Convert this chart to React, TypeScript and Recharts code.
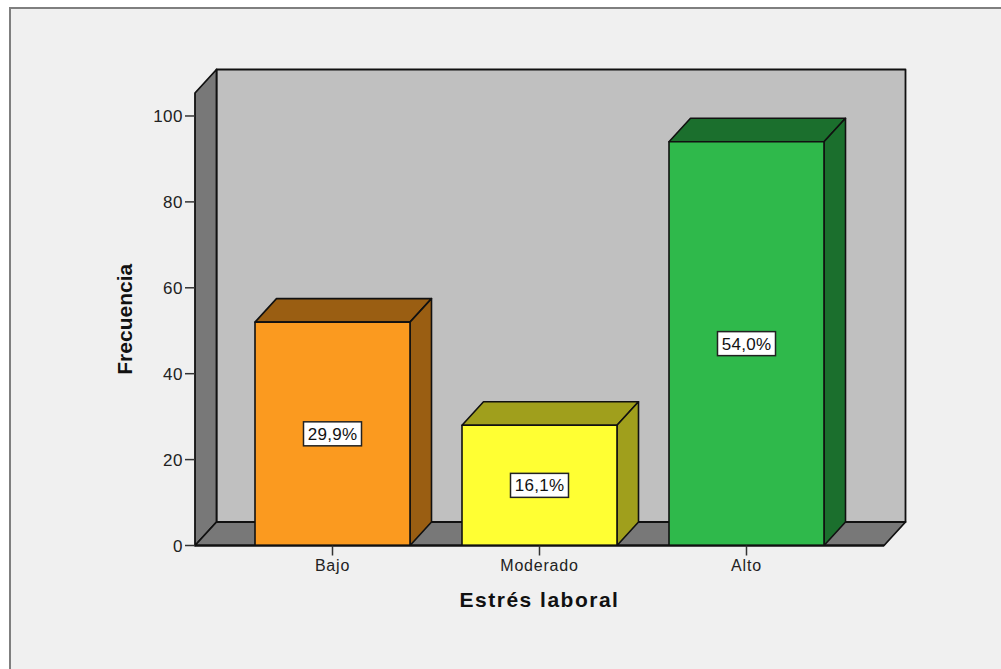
import { BarChart, Bar, XAxis, YAxis, ReferenceArea, LabelList, Cell } from 'recharts';

const categories = ['Bajo', 'Moderado', 'Alto'];
const frecuencia = [52, 28, 94];
const porcentajes = ['29,9%', '16,1%', '54,0%'];
const frontColors = ['#fb9a1f', '#ffff33', '#2fb94b'];
const darkColors = ['#9a5e12', '#a09f1c', '#1b6f2d'];
const yTicks = [0, 20, 40, 60, 80, 100];

const data = categories.map((name, i) => ({ name, value: frecuencia[i], pct: porcentajes[i] }));

// depth of the fake 3D box, SPSS style
const DX = 21.5;
const DY = 23.5;
const AXIS_PAD = 34;
const FONT = '"Liberation Sans", Arial, sans-serif';
const LINE = '#111';

function Walls(props: any) {
  // the reference area only covers the bands, so widen it back over the axis padding
  const x = props.x - AXIS_PAD;
  const width = props.width + AXIS_PAD * 2;
  const { y, height } = props;
  const bottom = y + height;
  const right = x + width;
  return (
    <g stroke={LINE} strokeWidth={1.8} strokeLinejoin="round">
      <rect x={x + DX} y={y - DY} width={width} height={height} fill="#c0c0c0" />
      <polygon
        points={`${x},${y} ${x + DX},${y - DY} ${x + DX},${bottom - DY} ${x},${bottom}`}
        fill="#787878"
      />
      <polygon
        points={`${x},${bottom} ${x + DX},${bottom - DY} ${right + DX},${bottom - DY} ${right},${bottom}`}
        fill="#787878"
      />
    </g>
  );
}

function Box(props: any) {
  const { x, y, width, height, index } = props;
  const dark = darkColors[index];
  return (
    <g stroke={LINE} strokeWidth={1.6} strokeLinejoin="round">
      <polygon
        points={`${x},${y} ${x + DX},${y - DY} ${x + width + DX},${y - DY} ${x + width},${y}`}
        fill={dark}
      />
      <polygon
        points={`${x + width},${y} ${x + width + DX},${y - DY} ${x + width + DX},${y + height - DY} ${x + width},${y + height}`}
        fill={dark}
      />
      <rect x={x} y={y} width={width} height={height} fill={frontColors[index]} />
    </g>
  );
}

function PctLabel(props: any) {
  const { x, y, width, height, value } = props;
  const cx = x + width / 2;
  const cy = y + height / 2;
  return (
    <g>
      <rect x={cx - 29} y={cy - 12} width={58} height={24} fill="#fff" stroke="#222" strokeWidth={1.5} />
      <text x={cx} y={cy + 6} textAnchor="middle" fontFamily={FONT} fontSize={17} letterSpacing={0.3} fill="#111">
        {value}
      </text>
    </g>
  );
}

export default function App() {
  return (
    <div style={{ position: 'absolute', left: 0, top: 0, width: 1001, height: 669, background: '#fff', overflow: 'hidden' }}>
      <div
        style={{
          position: 'absolute',
          left: 9,
          top: 7,
          width: 1000,
          height: 670,
          background: '#f0f0f0',
          border: '2px solid #7f7f7f',
        }}
      />
      <div style={{ position: 'absolute', left: 0, top: 0 }}>
        <BarChart
          width={1001}
          height={669}
          data={data}
          margin={{ top: 93, right: 117, bottom: 63.5, left: 115 }}
        >
          <XAxis
            dataKey="name"
            padding={{ left: AXIS_PAD, right: AXIS_PAD }}
            axisLine={{ stroke: LINE, strokeWidth: 1.8 }}
            tickLine={{ stroke: '#333', strokeWidth: 1.5 }}
            tickSize={10}
            tick={{ fontFamily: FONT, fontSize: 16, letterSpacing: 0.8, fill: '#222' }}
            tickMargin={4}
            height={60}
            label={{
              value: 'Estrés laboral',
              position: 'insideBottom',
              offset: -1,
              style: { fontFamily: FONT, fontSize: 21, fontWeight: 700, fill: '#111', letterSpacing: 1.5 },
            }}
          />
          <YAxis
            domain={[0, 105.35]}
            ticks={yTicks}
            allowDataOverflow
            axisLine={false}
            tickLine={{ stroke: '#333', strokeWidth: 1.5 }}
            tickSize={10}
            tick={{ fontFamily: FONT, fontSize: 17, letterSpacing: 0.5, fill: '#222' }}
            tickMargin={2}
            width={80}
            label={{
              value: 'Frecuencia',
              angle: -90,
              position: 'insideLeft',
              offset: 10,
              style: { fontFamily: FONT, fontSize: 21, fontWeight: 700, fill: '#111', textAnchor: 'middle' },
            }}
          />
          <ReferenceArea y1={0} y2={105.35} shape={Walls} />
          <Bar dataKey="value" barSize={155} shape={Box} isAnimationActive={false}>
            {data.map((d, i) => (
              <Cell key={d.name} fill={frontColors[i]} />
            ))}
            <LabelList dataKey="pct" content={PctLabel} />
          </Bar>
        </BarChart>
      </div>
    </div>
  );
}
